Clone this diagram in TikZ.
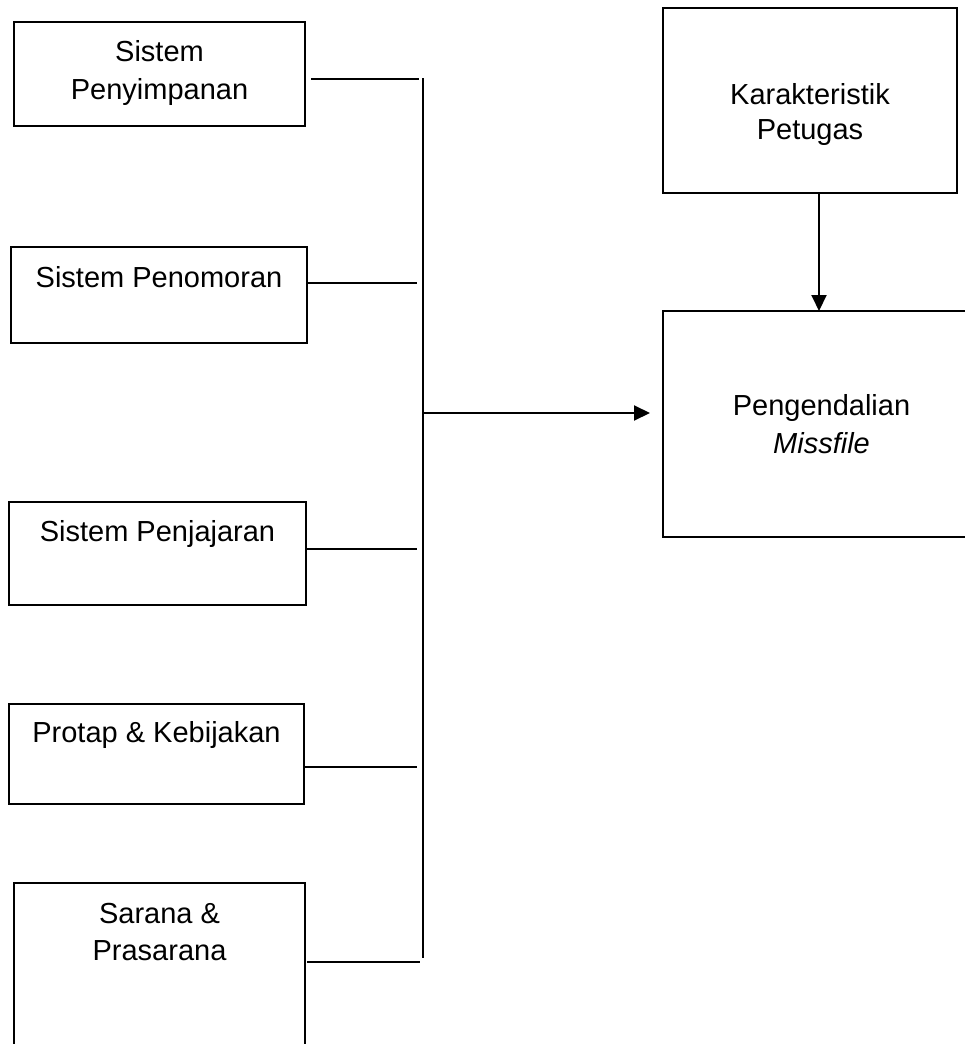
\documentclass[tikz,border=0pt]{standalone}
\usepackage{fontspec}
\setmainfont{Liberation Sans}
\usetikzlibrary{arrows.meta}
\begin{document}
\begin{tikzpicture}[x=1pt,y=-1pt,
  box/.style={draw,line width=2pt,inner sep=0pt,outer sep=0pt,rectangle},
  lbl/.style={anchor=base,inner sep=0pt,font=\fontsize{29}{34}\selectfont},
  conn/.style={line width=2pt},
  arr/.style={line width=2pt,-{Triangle[length=16pt,width=15pt]}}]
\useasboundingbox (0,0) rectangle (964,1044);
% boxes
\node[box,minimum width=291pt,minimum height=104pt] (b1) at (159.5,74) {};
\node[box,minimum width=296pt,minimum height=96pt] (b2) at (159,295) {};
\node[box,minimum width=297pt,minimum height=103pt] (b3) at (157.5,553.5) {};
\node[box,minimum width=295pt,minimum height=100pt] (b4) at (156.5,754) {};
\node[box,minimum width=291pt,minimum height=177pt] (b5) at (159.5,971.5) {};
\node[box,minimum width=294pt,minimum height=185pt] (kp) at (810,100.5) {};
\node[box,minimum width=317pt,minimum height=226pt] (pm) at (821.5,424) {};
% labels
\node[lbl] (t1a) at (159.5,61) {Sistem};
\node[lbl] (t1b) at (159.5,99) {Penyimpanan};
\node[lbl] (t2) at (159,287) {Sistem Penomoran};
\node[lbl] (t3) at (157.5,541) {Sistem Penjajaran};
\node[lbl] (t4) at (156.5,742) {Protap \& Kebijakan};
\node[lbl] (t5a) at (159.5,923) {Sarana \&};
\node[lbl] (t5b) at (159.5,960) {Prasarana};
\node[lbl] (tka) at (810,104) {Karakteristik};
\node[lbl] (tkb) at (810,139) {Petugas};
\node[lbl] (tpa) at (821.5,415) {Pengendalian};
\node[lbl] (tpb) at (821.5,453) {\itshape Missfile};
% junction coordinates
\coordinate (j1) at (419,79);
\coordinate (j2) at (417,283);
\coordinate (j3) at (417,549);
\coordinate (j4) at (417,767);
\coordinate (j5) at (420,962);
\coordinate (vtop) at (423,78);
\coordinate (vbot) at (423,958);
\coordinate (hub) at (423,413);
\coordinate (tip) at (650,413);
% connectors
\draw[conn] ([xshift=6pt]b1.east |- j1) -- (j1);
\draw[conn] (b2.east |- j2) -- (j2);
\draw[conn] (b3.east |- j3) -- (j3);
\draw[conn] (b4.east |- j4) -- (j4);
\draw[conn] ([xshift=2pt]b5.east |- j5) -- (j5);
\draw[conn] (vtop) -- (vbot);
\draw[arr] (hub) -- (tip);
\draw[arr] (kp.south -| 819,0) -- (pm.north -| 819,0);
\end{tikzpicture}
\end{document}
